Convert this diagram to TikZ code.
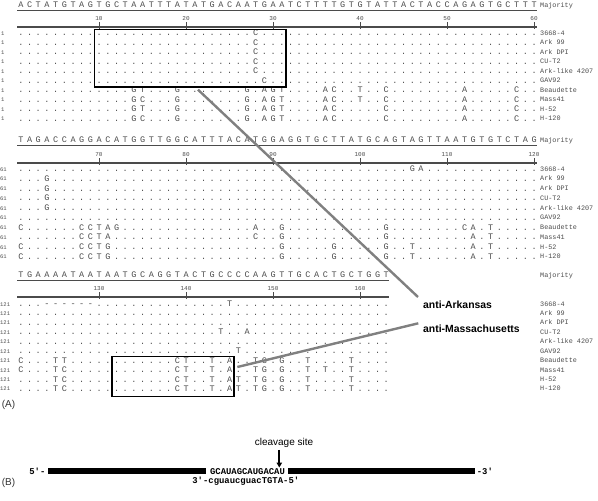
\documentclass[tikz,border=0pt]{standalone}
\usepackage{fontspec}
\setmainfont{Liberation Sans}
\newfontfamily\alnfont{Liberation Mono}
\usetikzlibrary{arrows.meta}
\newlength\colw \setlength\colw{8.7pt}
\def\sqloop#1{\ifx#1\relax\else\makebox[\colw][c]{#1}\expandafter\sqloop\fi}
\newcommand\sq[1]{\sqloop#1\relax}
\definecolor{aln}{RGB}{75,75,75}
\definecolor{conn}{RGB}{128,128,128}
\begin{document}
\begin{tikzpicture}[x=1pt,y=-1pt,
  seq/.style={inner sep=0pt,anchor=base west,font={\alnfont\fontsize{8.5}{8.5}\selectfont},text=aln},
  lbl/.style={inner sep=0pt,anchor=base west,font={\alnfont\fontsize{6.8}{6.8}\selectfont},text=aln},
  num/.style={inner sep=0pt,anchor=base,font={\alnfont\fontsize{6}{6}\selectfont},text=aln},
  rnum/.style={inner sep=0pt,anchor=base west,font={\alnfont\fontsize{5.5}{5.5}\selectfont},text=aln},
  ruler/.style={line width=1.2pt,draw=aln},
  uline/.style={line width=0.6pt,draw=aln},
  tick/.style={line width=0.6pt,draw=aln},
  box/.style={draw=black,line width=1.4pt,inner sep=0pt,fill=none},
  conline/.style={draw=conn,line width=2.4pt},
  anti/.style={inner sep=0pt,anchor=west,font={\bfseries\fontsize{10.4}{12}\selectfont},text=black},
  panel/.style={inner sep=0pt,font={\fontsize{10}{12}\selectfont},text=black!80},
  bar/.style={fill=black,draw=none,inner sep=0pt,minimum height=6pt},
  rna/.style={inner sep=0pt,font={\alnfont\bfseries\fontsize{8.9}{9}\selectfont},text=black}
]
\useasboundingbox (0,0) rectangle (598,501);

% ---------- Block 1 ----------
\node[seq] (majA) at (16.35,7.5) {\sq{ACTATGTAGT GCTAATTTAT ATGACAATGA ATCTTTTGTG TATTACTACC AGAGTGCTTT}};
\node[lbl] (majAl) at (540,7.5) {Majority};
\draw[uline] (17,10.5) -- (537,10.5);
\draw[ruler] (17,27) -- (537,27);
\foreach \c in {10,20,30,40,50,60}{
  \draw[tick] (12+8.7*\c,22) -- (12+8.7*\c,28.5);
  \node[num] (tA\c) at (12+8.7*\c,20) {\c};
}
\node[seq] (rA0) at (16.35,35.8) {\sq{.......... .......... .......C.. .......... .......... ..........}};
\node[seq] (rA1) at (16.35,45.3) {\sq{.......... .......... .......C.. .......... .......... ..........}};
\node[seq] (rA2) at (16.35,54.8) {\sq{.......... .......... .......C.. .......... .......... ..........}};
\node[seq] (rA3) at (16.35,64.3) {\sq{.......... .......... .......C.. .......... .......... ..........}};
\node[seq] (rA4) at (16.35,73.8) {\sq{.......... .......... .......C.. .......... .......... ..........}};
\node[seq] (rA5) at (16.35,83.3) {\sq{.......... .......... ........C. .......... .......... ..........}};
\node[seq] (rA6) at (16.35,92.8) {\sq{.......... ...GT...G. ......G.AG T....AC..T ..C....... .A.....C..}};
\node[seq] (rA7) at (16.35,102.3) {\sq{.......... ...GC...G. ......G.AG T....AC..T ..C....... .A.....C..}};
\node[seq] (rA8) at (16.35,111.8) {\sq{.......... ...GT...G. ......G.AG T....AC... ..C....... .A.....C..}};
\node[seq] (rA9) at (16.35,121.3) {\sq{.......... ...GC...G. ......G.AG T....AC... ..C....... .A.....C..}};

% ---------- Block 2 ----------
\node[seq] (majB) at (16.35,142.5) {\sq{TAGACCAGGA CATGGTTGGC ATTTACATGG AGGTGCTTAT GCAGTAGTTA ATGTGTCTAG}};
\node[lbl] (majBl) at (540,142.5) {Majority};
\draw[uline] (17,145.5) -- (537,145.5);
\draw[ruler] (17,163) -- (537,163);
\foreach \c [evaluate=\c as \lab using int(\c+60)] in {10,20,30,40,50,60}{
  \draw[tick] (12+8.7*\c,158) -- (12+8.7*\c,164.5);
  \node[num] (tB\c) at (12+8.7*\c,156) {\lab};
}
\node[seq] (rB0) at (16.35,171.5) {\sq{.......... .......... .......... .......... .....GA... ..........}};
\node[seq] (rB1) at (16.35,181.25) {\sq{...G...... .......... .......... .......... .......... ..........}};
\node[seq] (rB2) at (16.35,191) {\sq{...G...... .......... .......... .......... .......... ..........}};
\node[seq] (rB3) at (16.35,200.75) {\sq{...G...... .......... .......... .......... .......... ..........}};
\node[seq] (rB4) at (16.35,210.5) {\sq{...G...... .......... .......... .......... .......... ..........}};
\node[seq] (rB5) at (16.35,220.25) {\sq{.......... .......... .......... .......... .......... ..........}};
\node[seq] (rB6) at (16.35,230) {\sq{C......CCT AG........ .......A.. G......... ..G....... .CA.T.....}};
\node[seq] (rB7) at (16.35,239.75) {\sq{.......CCT A......... .......C.. G......... ..G....... ..A.T.....}};
\node[seq] (rB8) at (16.35,249.5) {\sq{C......CCT G......... .......... G.....G... ..G..T.... ..A.T.....}};
\node[seq] (rB9) at (16.35,259.25) {\sq{C......CCT G......... .......... G.....G... ..G..T.... ..A.T.....}};

% ---------- Block 3 ----------
\node[seq] (majC) at (16.35,277.5) {\sq{TGAAAATAAT AATGCAGGTA CTGCCCCAAG TTGCACTGCT GGT}};
\node[lbl] (majCl) at (540,277.5) {Majority};
\draw[uline] (17,280.5) -- (389,280.5);
\draw[ruler] (17,297) -- (389,297);
\foreach \c [evaluate=\c as \lab using int(\c+120)] in {10,20,30,40}{
  \draw[tick] (12+8.7*\c,292) -- (12+8.7*\c,298.5);
  \node[num] (tC\c) at (12+8.7*\c,290.5) {\lab};
}
\node[seq] (rC0) at (16.35,306.5) {\sq{...------. .......... ....T..... .......... ...}};
\node[seq] (rC1) at (16.35,315.94) {\sq{.......... .......... .......... .......... ...}};
\node[seq] (rC2) at (16.35,325.38) {\sq{.......... .......... .......... .......... ...}};
\node[seq] (rC3) at (16.35,334.82) {\sq{.......... .......... ...T..A... .......... ...}};
\node[seq] (rC4) at (16.35,344.26) {\sq{.......... .......... .......... .......... ...}};
\node[seq] (rC5) at (16.35,353.7) {\sq{.......... .......... .....T.... .......... ...}};
\node[seq] (rC6) at (16.35,363.14) {\sq{C...TT.... ........CT ..T.A..TG. G..T....T. ...}};
\node[seq] (rC7) at (16.35,372.58) {\sq{C...TC.... ........CT ..T.A..TG. G..T.T..T. ...}};
\node[seq] (rC8) at (16.35,382.02) {\sq{....TC.... ........CT ..T.AT.TG. G..T....T. ...}};
\node[seq] (rC9) at (16.35,391.46) {\sq{....TC.... ........CT ..T.AT.TG. G..T....T. ...}};

% ---------- row labels ----------
\foreach \lab [count=\i from 0] in {3668-4,Ark 99,Ark DPI,CU-T2,Ark-like 4207,GAV92,Beaudette,Mass41,H-52,H-120}{
  \node[lbl] (nA\i) at (540,35.3+9.5*\i) {\lab};
  \node[lbl] (nB\i) at (540,171+9.75*\i) {\lab};
  \node[lbl] (nC\i) at (540,306+9.44*\i) {\lab};
  \node[rnum] (kA\i) at (1,35.3+9.5*\i) {1};
  \node[rnum] (kB\i) at (0,171+9.75*\i) {61};
  \node[rnum] (kC\i) at (0,306+9.44*\i) {121};
}

% ---------- boxes and probes ----------
\node[box,minimum width=191.4pt,minimum height=57.7pt] (boxArk) at (190.35,58.15) {};
\node[box,minimum width=121.8pt,minimum height=40pt] (boxMass) at (172.95,376.7) {};
\node[anti] (antiArk) at (423,305) {anti-Arkansas};
\node[anti] (antiMass) at (423,329) {anti-Massachusetts};
\draw[conline] ([shift={(7.65,2)}]boxArk.south) -- ([shift={(-5,-8)}]antiArk.west);
\draw[conline] ([shift={(2.8,-9.7)}]boxMass.east) -- ([shift={(-4.7,-5.7)}]antiMass.west);

% ---------- panel labels ----------
\node[panel] (pA) at (8.5,405) {(A)};
\node[panel] (pB) at (8.5,483) {(B)};

% ---------- panel B ----------
\node[bar,minimum width=157.7pt] (barL) at (127.15,471.3) {};
\node[bar,minimum width=186.7pt] (barR) at (381.65,471.3) {};
\node[rna] (top) at (247.5,471.3) {GCAUAGCAUGACAU};
\node[rna,anchor=east] (five) at ([xshift=-2.5pt]barL.west) {5\textquotesingle-};
\node[rna,anchor=west] (three) at ([xshift=1.5pt]barR.east) {-3\textquotesingle};
\node[rna] (bottom) at (245.8,480.8) {3\textquotesingle-cguaucguacTGTA-5\textquotesingle};
\node[inner sep=0pt,font={\fontsize{10}{12}\selectfont}] (cleave) at (284,443) {cleavage site};
\coordinate (cut) at (279.3,467.5);
\draw[line width=1.8pt,-{Triangle[length=5pt,width=5.5pt]}] (cleave.south -| cut) ++(0,2) -- (cut);
\end{tikzpicture}
\end{document}
